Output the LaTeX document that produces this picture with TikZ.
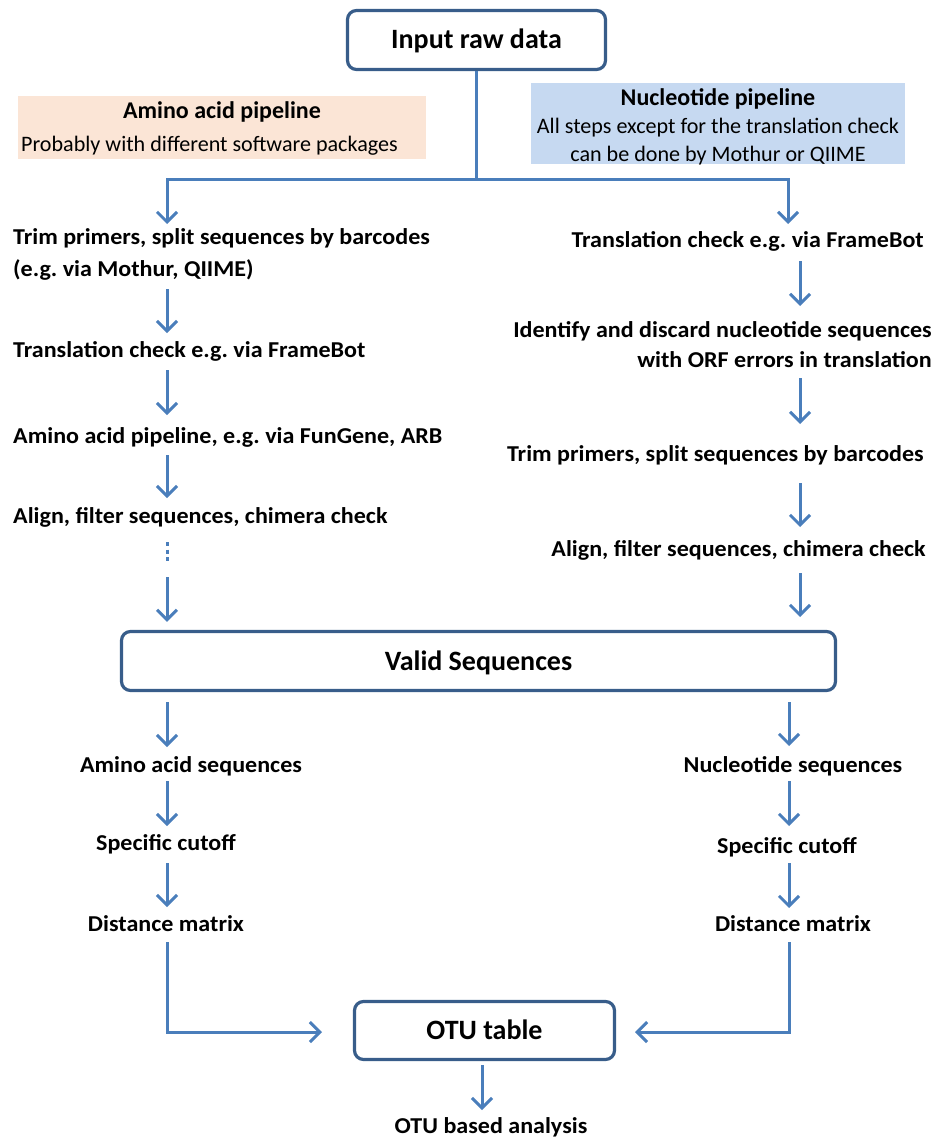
\documentclass[tikz,border=0pt]{standalone}
\usepackage{fontspec}
\setmainfont{Carlito}
\newfontfamily\stepfont[FakeStretch=1.06]{Carlito}
\usetikzlibrary{arrows.meta}
\definecolor{arrowblue}{RGB}{74,126,187}
\definecolor{boxblue}{RGB}{56,93,138}
\definecolor{peach}{RGB}{251,229,214}
\definecolor{lightblue}{RGB}{198,217,241}
\frenchspacing
\tikzset{
  bigbox/.style={draw=boxblue, line width=3.2pt, rounded corners=9pt, fill=white,
    inner sep=0pt, text height=18pt, text depth=0pt,
    font=\bfseries\fontsize{28}{32}\selectfont},
  txt/.style={inner sep=0pt, font=\stepfont\bfseries\fontsize{22.7}{26}\selectfont},
  head/.style={inner sep=0pt, font=\bfseries\fontsize{24}{28}\selectfont},
  plain/.style={inner sep=0pt, font=\fontsize{22.1}{26}\selectfont},
  arr/.style={draw=arrowblue, line width=3pt, -{Straight Barb[length=10pt,width=20pt]}},
  dotline/.style={draw=arrowblue, line width=3pt, dash pattern=on 4pt off 3.5pt},
}
\begin{document}
\frenchspacing
\begin{tikzpicture}[x=1pt,y=-1pt]
\useasboundingbox (0,0) rectangle (938,1137);

% boxes
\node[bigbox, minimum width=258pt, minimum height=59pt] (in) at (476.5,40) {Input raw data};
\node[bigbox, minimum width=714pt, minimum height=59pt] (valid) at (478.5,661) {Valid Sequences};
\node[bigbox, minimum width=260pt, minimum height=58pt] (otu) at (484.5,1030.5) {OTU table};

% pipeline notes
\node[fill=peach, minimum width=408pt, minimum height=63pt, inner sep=0pt] (aabox) at (222,127.5) {};
\node[head, anchor=base] (aahead) at (222,118) {Amino acid pipeline};
\node[plain, anchor=base west] (aanote) at (21,151) {Probably with different software packages};
\node[fill=lightblue, minimum width=374pt, minimum height=81pt, inner sep=0pt] (ntbox) at (718,123.5) {};
\node[head, anchor=base] (nthead) at (718,106) {Nucleotide pipeline};
\node[plain, anchor=base] (ntnote1) at (718,133) {All steps except for the translation check};
\node[plain, anchor=base] (ntnote2) at (718,161) {can be done by Mothur or QIIME};

% left column
\node[txt, anchor=base west] (L1a) at (13,244) {Trim primers, split sequences by barcodes};
\node[txt, anchor=base west] (L1b) at (13,276) {(e.g. via Mothur, QIIME)};
\node[txt, anchor=base west] (L2) at (13,357) {Translation check e.g. via FrameBot};
\node[txt, anchor=base west] (L3) at (13,443) {Amino acid pipeline, e.g. via FunGene, ARB};
\node[txt, anchor=base west] (L4) at (13,523) {Align, filter sequences, chimera check};

% right column
\node[txt, anchor=base east] (R1) at (924,247) {Translation check e.g. via FrameBot};
\node[txt, anchor=base east] (R2a) at (932,337) {Identify and discard nucleotide sequences};
\node[txt, anchor=base east] (R2b) at (932,367) {with ORF errors in translation};
\node[txt, anchor=base east] (R3) at (924,461) {Trim primers, split sequences by barcodes};
\node[txt, anchor=base east] (R4) at (926,556) {Align, filter sequences, chimera check};

% lower part
\node[txt, anchor=base] (A1) at (191,772) {Amino acid sequences};
\node[txt, anchor=base] (A2) at (166,850) {Specific cutoff};
\node[txt, anchor=base] (A3) at (166,931) {Distance matrix};
\node[txt, anchor=base] (N1) at (793,772) {Nucleotide sequences};
\node[txt, anchor=base] (N2) at (787,853) {Specific cutoff};
\node[txt, anchor=base] (N3) at (793,931) {Distance matrix};
\node[txt, anchor=base] (ana) at (491,1133) {OTU based analysis};

% coordinates for arrow ends
\coordinate (jn) at (in.south |- 0,179);
\coordinate (lt0) at (167,224);
\coordinate (rt0) at (788,224);
\coordinate (l1s) at (167,289); \coordinate (l1e) at (167,333);
\coordinate (l2s) at (167,370); \coordinate (l2e) at (167,415);
\coordinate (l3s) at (167,455); \coordinate (l3e) at (167,498);
\coordinate (l4s) at (167,542); \coordinate (l4m) at (167,562);
\coordinate (l5s) at (167,577); \coordinate (l5e) at (valid.north -| 167,0);
\coordinate (r1s) at (800,261); \coordinate (r1e) at (800,306);
\coordinate (r2s) at (800,378); \coordinate (r2e) at (800,424);
\coordinate (r3s) at (800,483); \coordinate (r3e) at (800,527);
\coordinate (r4s) at (800,573); \coordinate (r4e) at (800,617);
\coordinate (a0s) at (167,702); \coordinate (a0e) at (167,747);
\coordinate (a1s) at (167,781); \coordinate (a1e) at (167,826);
\coordinate (a2s) at (167,863); \coordinate (a2e) at (167,907);
\coordinate (a3s) at (167,942);
\coordinate (n0s) at (789,702); \coordinate (n0e) at (789,746);
\coordinate (n1s) at (789,781); \coordinate (n1e) at (789,826);
\coordinate (n2s) at (789,863); \coordinate (n2e) at (789,908);
\coordinate (n3s) at (789,942);
\coordinate (otuL) at (322,1032);
\coordinate (otuR) at (635,1032);
\coordinate (os) at (482,1065); \coordinate (oe) at (482,1110);

% connectors
\draw[arr] (in.south) -- (jn) -| (lt0);
\draw[arr] (jn) -| (rt0);
\draw[arr] (l1s) -- (l1e);
\draw[arr] (l2s) -- (l2e);
\draw[arr] (l3s) -- (l3e);
\draw[dotline] (l4s) -- (l4m);
\draw[arr] (l5s) -- ([yshift=8pt]l5e);
\draw[arr] (r1s) -- (r1e);
\draw[arr] (r2s) -- (r2e);
\draw[arr] (r3s) -- (r3e);
\draw[arr] (r4s) -- (r4e);
\draw[arr] (a0s) -- (a0e);
\draw[arr] (a1s) -- (a1e);
\draw[arr] (a2s) -- (a2e);
\draw[arr] (a3s) |- (otuL);
\draw[arr] (n0s) -- (n0e);
\draw[arr] (n1s) -- (n1e);
\draw[arr] (n2s) -- (n2e);
\draw[arr] (n3s) |- (otuR);
\draw[arr] (os) -- (oe);
\end{tikzpicture}
\end{document}
